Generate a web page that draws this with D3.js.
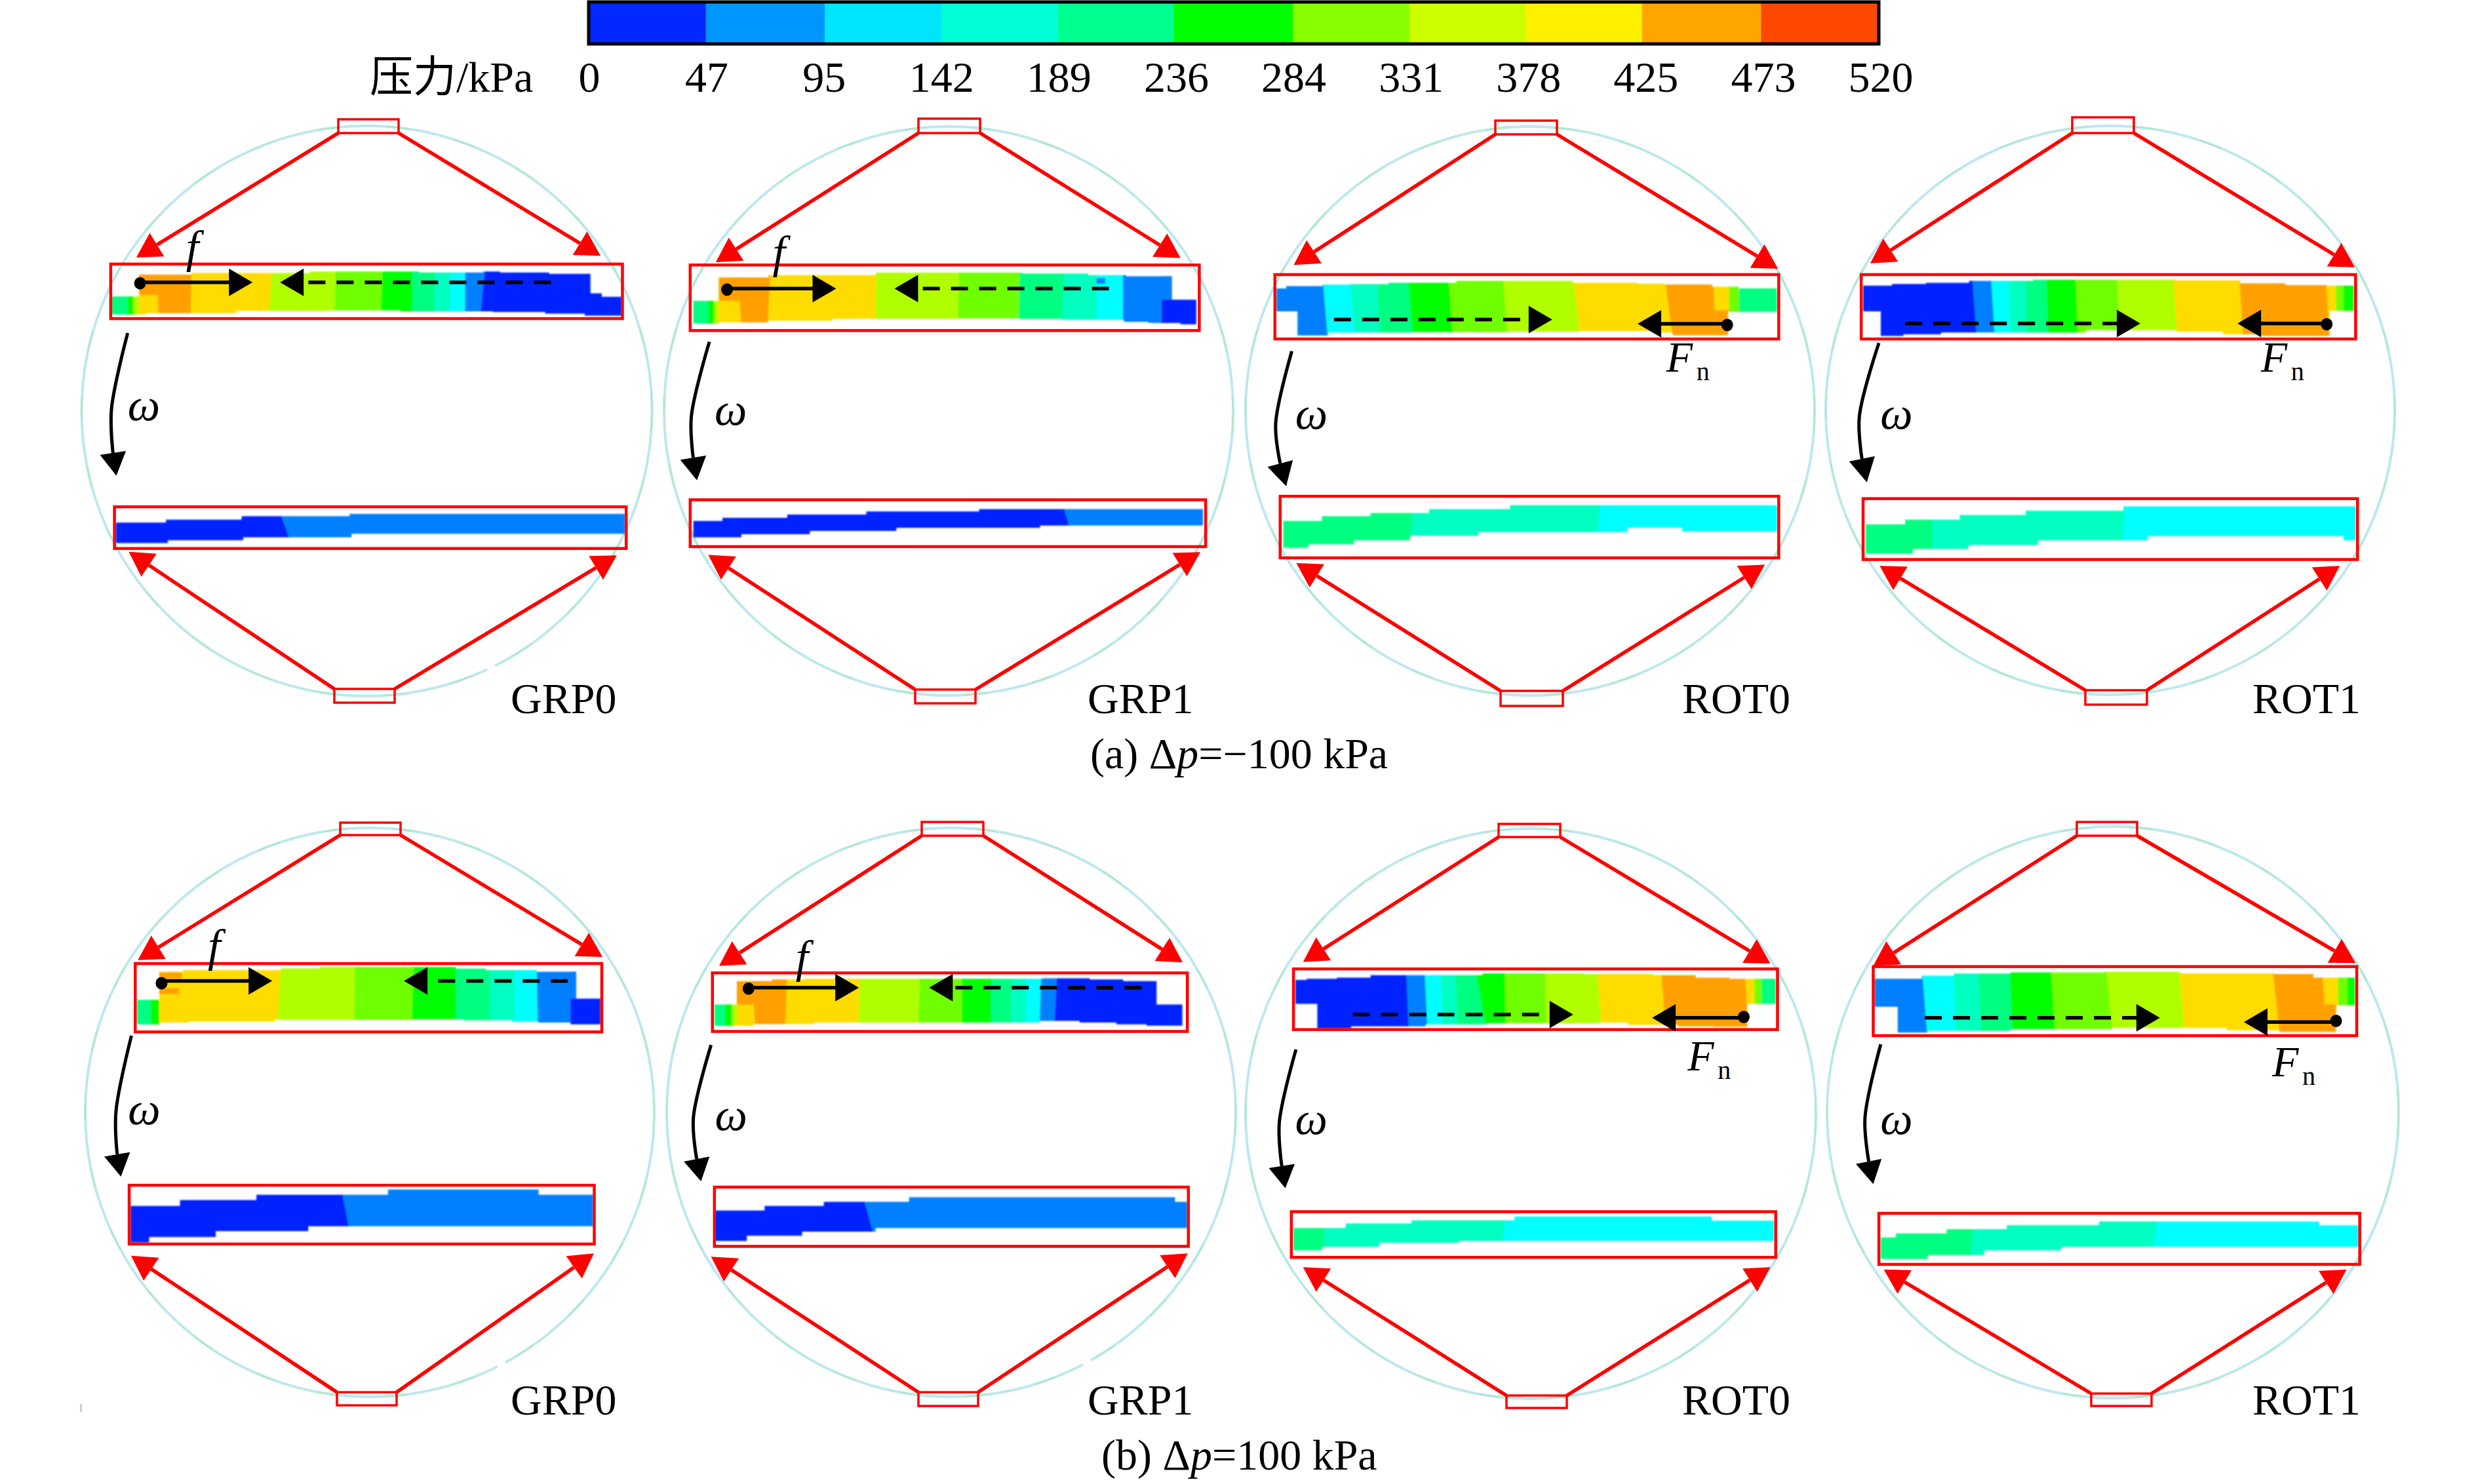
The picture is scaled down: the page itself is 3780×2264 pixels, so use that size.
<!DOCTYPE html>
<html><head><meta charset="utf-8">
<script src="https://d3js.org/d3.v7.min.js"></script>
<style>html,body{margin:0;background:#fff}svg{display:block}text{font-family:"Liberation Serif","Noto Sans CJK SC",serif;fill:#000}</style>
</head><body><div id="c"></div>
<script>
// ---- legend ----
const tickLabels=[0,47,95,142,189,236,284,331,378,425,473,520];
const barColors=["#0028ff","#0096ff","#00e5ff","#00ffd8","#00ff90","#00ff00","#88ff00","#ccff00","#fff000","#ffa500","#ff4800"];
const fieldColors=["#0020ff","#0080ff","#00ffff","#00ffc0","#00ff80","#00ff00","#70ff00","#b0ff00","#ffdc00","#ffa000","#ff4800"];
const caseNames=["GRP0","GRP1","ROT0","ROT1"];
// ---- pressure fields: top / bottom outline steps and pressure bands [edgeTop, edgeBottom, kPa] ----
const aGRP0Up={top:[[122,818],[195,725],[335,718],[650,712],[940,716],[1110,712],[1155,716],[1285,722],[1395,805],[1425,820],[1478]],
 bot:[[122,895],[215,890],[455,880],[700,878],[890,882],[1135,885],[1275,892],[1380,900],[1478]],
 bands:[[122,122,210],[165,165,260],[180,180,350],[195,195,400],[240,248,450],[335,332,400],[548,540,350],[718,715,305],[842,838,260],[922,920,210],[980,980,165],[1022,1022,120],[1062,1062,70],[1115,1102,20]],
 patches:[[195,245,725,812,450]]};
const aGRP0Low={top:[[133,552],[267,540],[468,525],[755,515],[1487]],bot:[[133,640],[272,628],[472,615],[760,600],[1487]],
 bands:[[133,133,20],[570,600,70]],patches:[]};
const aGRP1Up={top:[[100,305],[168,205],[300,195],[585,185],[975,188],[1150,195],[1250,200],[1372,300],[1437]],
 bot:[[100,402],[168,397],[300,390],[470,382],[800,380],[965,382],[1080,386],[1245,395],[1310,400],[1395,405],[1437]],
 bands:[[100,100,210],[140,140,260],[155,155,350],[168,168,400],[218,228,450],[305,298,400],[587,583,350],[807,802,305],[968,965,210],[1085,1080,165],[1172,1172,120],[1242,1242,70],[1345,1345,20]],
 patches:[[168,225,205,305,450],[1345,1372,200,300,70],[1172,1195,208,232,70]]};
const aGRP1Low={top:[[100,1245],[178,1232],[350,1218],[560,1205],[860,1195],[1455]],bot:[[100,1315],[228,1302],[410,1288],[640,1275],[1022,1265],[1455]],
 bands:[[100,100,20],[1085,1108,70]],patches:[]};
const aROT0Up={top:[[82,252],[108,242],[205,236],[275,234],[380,228],[560,220],[870,228],[1040,232],[1115,235],[1240,245],[1310,252],[1412]],
 bot:[[82,350],[138,453],[220,440],[445,438],[695,436],[885,434],[1100,440],[1135,452],[1282,352],[1412]],
 bands:[[82,82,70],[205,218,120],[278,290,165],[350,358,210],[432,445,260],[540,550,305],[685,695,350],[873,888,400],[1115,1135,450],[1243,1250,400],[1285,1285,305],[1312,1312,210]],
 patches:[[1248,1284,345,452,450]]};
const aROT0Low={top:[[100,1245],[203,1225],[332,1212],[488,1195],[703,1178],[1412]],bot:[[100,1360],[167,1345],[288,1328],[437,1308],[618,1293],[1015,1273],[1160,1290],[1412]],
 bands:[[100,100,210],[445,437,165],[942,935,120]],patches:[]};
const aROT1Up={top:[[108,240],[185,233],[275,228],[390,220],[560,215],[940,218],[1110,230],[1230,238],[1340,240],[1412]],
 bot:[[108,350],[155,455],[215,448],[315,440],[700,430],[940,437],[1065,448],[1165,455],[1348,348],[1412]],
 bands:[[108,108,20],[398,410,70],[448,458,120],[495,500,165],[540,545,210],[595,600,260],[672,680,305],[783,790,350],[932,943,400],[1108,1118,450],[1338,1348,400],[1365,1365,305],[1385,1385,260]],
 patches:[]};
const aROT1Low={top:[[115,1260],[220,1240],[365,1220],[540,1202],[800,1183],[1417]],bot:[[115,1385],[240,1365],[388,1348],[573,1328],[865,1310],[1385,1328],[1417]],
 bands:[[115,115,210],[292,290,165],[803,797,120]],patches:[]};
const bGRP0Up={top:[[102,295],[162,175],[225,168],[485,160],[590,155],[850,155],[950,162],[1030,168],[1165,175],[1270,290],[1335]],
 bot:[[102,400],[165,392],[240,388],[470,380],[835,378],[970,382],[1100,388],[1170,392],[1255,400],[1335]],
 bands:[[102,102,210],[140,140,260],[162,162,400],[485,475,350],[682,680,305],[838,833,260],[950,950,210],[1040,1040,165],[1108,1105,120],[1165,1168,70],[1255,1255,20]],
 patches:[[162,222,178,205,450],[162,215,245,270,450],[1255,1270,175,290,70]]};
const bGRP0Low={top:[[85,1175],[217,1150],[420,1128],[770,1105],[1170,1128],[1315]],bot:[[85,1332],[135,1308],[312,1283],[558,1262],[1315]],
 bands:[[85,85,20],[645,675,70]],patches:[]};
const bGRP1Up={top:[[78,315],[145,215],[250,208],[350,205],[1060,203],[1200,208],[1300,215],[1400,315],[1477]],
 bot:[[78,405],[195,398],[375,392],[1050,385],[1170,392],[1280,400],[1370,405],[1477]],
 bands:[[78,78,210],[110,110,260],[130,130,350],[145,145,400],[190,200,450],[295,290,400],[512,508,350],[692,688,305],[818,818,260],[905,905,210],[965,965,165],[1010,1010,120],[1055,1050,70],[1102,1095,20]],
 patches:[[145,195,215,315,450]]};
const bGRP1Low={top:[[80,1195],[228,1175],[405,1158],[660,1138],[1455,1158],[1492]],bot:[[80,1325],[175,1303],[340,1285],[560,1270],[1492]],
 bands:[[80,80,20],[522,560,70]],patches:[]};
const bROT0Up={top:[[103,210],[135,205],[220,200],[315,190],[630,182],[915,185],[1110,190],[1230,200],[1325,205],[1455]],
 bot:[[103,312],[165,418],[260,408],[470,400],[640,395],[955,392],[1040,402],[1180,408],[1280,410],[1375,312],[1455]],
 bands:[[103,103,20],[415,422,70],[467,475,120],[513,518,165],[555,560,210],[612,640,260],[692,695,305],[805,810,350],[953,965,400],[1133,1145,450],[1368,1378,400],[1395,1395,305],[1415,1415,210]],
 patches:[]};
const bROT0Low={top:[[97,1270],[245,1250],[430,1237],[720,1220],[1275,1238],[1450]],bot:[[97,1365],[178,1350],[340,1333],[563,1325],[1450]],
 bands:[[97,97,210],[187,182,165],[695,683,120]],patches:[]};
const bROT1Up={top:[[138,205],[265,192],[350,183],[500,178],[750,175],[950,182],[1200,185],[1305,200],[1415]],
 bot:[[138,325],[200,435],[280,428],[500,420],[770,415],[1075,425],[1215,432],[1365,318],[1415]],
 bands:[[138,138,70],[265,278,120],[347,355,165],[415,422,210],[498,505,260],[607,618,305],[755,770,350],[948,963,400],[1197,1215,450],[1328,1340,400],[1370,1370,305],[1395,1395,260]],
 patches:[[1335,1368,315,432,450]]};
const bROT1Low={top:[[155,1310],[195,1293],[330,1275],[490,1258],[735,1242],[1320,1258],[1425]],bot:[[155,1402],[280,1385],[430,1365],[635,1350],[1425]],
 bands:[[155,155,210],[402,392,165],[888,878,120]],patches:[]};

// ---- panel layout, read in each panel's own crop frame (0..1568 view units) ----
const panels=[
{row:0,k:0,crop:[100,160,900],lowCrop:[100,600,900],circle:[559.5,627,435],topBox:[516,182,608,203],botBox:[510,1051,602,1072],
 upRect:[120,680,1480,913],lowRect:[130,485,1490,663],upTips:[[188,652],[1422,645]],lowTips:[[168,677],[1465,692]],up:aGRP0Up,low:aGRP0Low,
 omega:[[165,975],[122,1300],[126,1487],[135,1584],[208,1347]],solid:[198,762,758,497],dash:[1290,758,570],f:[337,671],gap:[749,1018]},
{row:0,k:1,crop:[1000,350,900],lowCrop:[1000,350,900],circle:[1447,627,434],topBox:[1401,181,1495,203],botBox:[1396,1052,1488,1073],
 upRect:[92,152,1445,432],lowRect:[92,1155,1462,1355],upTips:[[160,140],[1395,122]],lowTips:[[140,1390],[1448,1378]],up:aGRP1Up,low:aGRP1Low,
 omega:[[143,480],[95,800],[100,975],[110,1072],[200,835]],solid:[190,257,253,480],dash:[1205,253,635],f:[328,161],gap:[1735,975]},
{row:0,k:2,crop:[1900,350,900],lowCrop:[1900,350,900],circle:[2334,627,434],topBox:[2281,184,2375,205],botBox:[2289,1054,2384,1077],
 upRect:[78,193,1417,468],lowRect:[92,1140,1417,1403],upTips:[[128,152],[1415,168]],lowTips:[[135,1425],[1380,1432]],up:aROT0Up,low:aROT0Low,
 omega:[[123,520],[80,830],[92,1000],[108,1097],[175,850]],solid:[1280,408,403,1042],dash:[235,385,815],F:[1118,608]},
{row:0,k:3,crop:[2780,350,900],lowCrop:[2780,350,900],circle:[3219,626,434],topBox:[3161,179,3255,203],botBox:[3181,1053,3275,1075],
 upRect:[103,193,1417,468],lowRect:[108,1150,1422,1410],upTips:[[127,145],[1415,162]],lowTips:[[152,1437],[1375,1437]],up:aROT1Up,low:aROT1Low,
 omega:[[150,485],[98,800],[105,980],[118,1080],[197,852]],solid:[1340,405,402,1103],dash:[220,402,845],F:[1165,608]},
{row:1,k:0,crop:[150,1420,900],lowCrop:[150,1420,900],circle:[564,1697,434],topBox:[519,1255,611,1274],botBox:[514,2124,605,2144],
 upRect:[98,140,1338,432],lowRect:[82,1087,1318,1338],upTips:[[105,125],[1340,112]],lowTips:[[87,1388],[1317,1378]],up:bGRP0Up,low:bGRP0Low,
 omega:[[88,448],[47,770],[50,955],[60,1050],[122,825]],solid:[168,224,214,462],dash:[1248,214,812],f:[308,130],gap:[765,2082]},
{row:1,k:1,crop:[1050,1420,800],lowCrop:[1050,1420,800],circle:[1451,1697,434],topBox:[1406,1254,1500,1275],botBox:[1401,2124,1492,2145],
 upRect:[72,180,1492,430],lowRect:[78,1095,1495,1348],upTips:[[92,150],[1478,135]],lowTips:[[68,1392],[1493,1378]],up:bGRP1Up,low:bGRP1Low,
 omega:[[68,488],[15,800],[25,975],[38,1070],[128,850]],solid:[180,247,243,510],dash:[1355,243,720],f:[340,175],gap:[1658,2078]},
{row:1,k:2,crop:[1920,1420,850],lowCrop:[1920,1420,850],circle:[2335,1699,435],topBox:[2286,1257,2380,1277],botBox:[2298,2129,2390,2148],
 upRect:[98,163,1460,422],lowRect:[92,1200,1455,1395],upTips:[[125,133],[1440,140]],lowTips:[[125,1437],[1440,1437]],up:bROT0Up,low:bROT0Low,
 omega:[[105,507],[58,820],[65,1005],[75,1100],[148,868]],solid:[1365,368,372,1107],dash:[265,358,885],F:[1207,595]},
{row:1,k:3,crop:[2780,1420,900],lowCrop:[2780,1420,900],circle:[3223,1697,436],topBox:[3168,1254,3260,1275],botBox:[3190,2126,3282,2145],
 upRect:[135,153,1420,448],lowRect:[150,1207,1428,1425],upTips:[[135,150],[1417,138]],lowTips:[[163,1447],[1393,1447]],up:bROT1Up,low:bROT1Low,
 omega:[[155,485],[113,800],[123,985],[135,1082],[197,868]],solid:[1365,385,390,1120],dash:[272,372,897],F:[1195,622]}
];
const labelX=[779,1659,2566,3436];
const labelY=[1088,2158];
const RED="#ff0000";

const W=3780,H=2264;
const svg=d3.select("#c").append("svg").attr("width",W).attr("height",H).attr("viewBox",[0,0,W,H]);
const defs=svg.append("defs");
defs.append("filter").attr("id","soft").attr("x","-5%").attr("y","-20%").attr("width","110%").attr("height","140%")
  .append("feGaussianBlur").attr("stdDeviation",1.1);

// ---- colour bar ----
const bx=d3.scaleLinear().domain([0,520]).range([899,2864]);
const tickX=d3.scalePoint().domain(tickLabels).range([899,2869]);
const barScale=d3.scaleThreshold().domain(tickLabels.slice(1,-1)).range(barColors);
const fieldScale=d3.scaleThreshold().domain(tickLabels.slice(1,-1)).range(fieldColors);
const g0=svg.append("g");
g0.selectAll("rect.seg").data(d3.pairs(tickLabels)).join("rect").attr("class","seg")
  .attr("x",d=>bx(d[0])).attr("width",d=>bx(d[1])-bx(d[0])+0.5).attr("y",4).attr("height",63)
  .attr("fill",d=>barScale((d[0]+d[1])/2));
g0.append("rect").attr("x",898).attr("y",3).attr("width",1968).attr("height",64).attr("fill","none").attr("stroke","#000").attr("stroke-width",5);
g0.selectAll("text.tick").data(tickLabels).join("text").attr("class","tick")
  .attr("x",d=>tickX(d)).attr("y",140).attr("text-anchor","middle").attr("font-size",66).text(d=>d);
g0.append("text").attr("x",564).attr("y",140).attr("font-size",66).text("压力/kPa");

// ---- helpers ----
const lineGen=d3.line();
function stepPoly(s,x,y){
  const pts=[];
  for(let i=0;i<s.top.length-1;i++){pts.push([x(s.top[i][0]),y(s.top[i][1])],[x(s.top[i+1][0]),y(s.top[i][1])]);}
  for(let i=s.bot.length-2;i>=0;i--){pts.push([x(s.bot[i+1][0]),y(s.bot[i][1])],[x(s.bot[i][0]),y(s.bot[i][1])]);}
  return lineGen(pts)+"Z";
}
let clipId=0;
function drawStrip(g,s,x,y){
  const id="clip"+(clipId++);
  defs.append("clipPath").attr("id",id).append("path").attr("d",stepPoly(s,x,y));
  const endX=s.top[s.top.length-1][0];
  const yMin=d3.min(s.top.slice(0,-1),d=>d[1])-5, yMax=d3.max(s.bot.slice(0,-1),d=>d[1])+5;
  const outer=g.append("g").attr("filter","url(#soft)");
  const gg=outer.append("g").attr("clip-path",`url(#${id})`);
  gg.selectAll("path.band").data(s.bands).join("path").attr("class","band")
    .attr("fill",d=>fieldScale(d[2]))
    .attr("d",(d,i)=>{
      const n=s.bands[i+1]||[endX,endX];
      return lineGen([[x(d[0]),y(yMin)],[x(n[0])+0.6,y(yMin)],[x(n[1])+0.6,y(yMax)],[x(d[1]),y(yMax)]])+"Z";
    });
  gg.selectAll("rect.patch").data(s.patches).join("rect").attr("class","patch")
    .attr("x",d=>x(d[0])).attr("width",d=>x(d[1])-x(d[0])).attr("y",d=>y(d[2])).attr("height",d=>y(d[3])-y(d[2]))
    .attr("fill",d=>fieldScale(d[4]));
}
function redBox(g,b,sw){
  g.append("rect").attr("x",b[0]).attr("y",b[1]).attr("width",b[2]-b[0]).attr("height",b[3]-b[1])
   .attr("fill","none").attr("stroke",RED).attr("stroke-width",sw);
}
function headPts(base,tip,halfW){
  const dx=tip[0]-base[0],dy=tip[1]-base[1],L=Math.hypot(dx,dy);
  const nx=-dy/L*halfW,ny=dx/L*halfW;
  return [[tip[0],tip[1]],[base[0]+nx,base[1]+ny],[base[0]-nx,base[1]-ny]];
}
function redArrow(g,from,tip){
  const dx=tip[0]-from[0],dy=tip[1]-from[1],L=Math.hypot(dx,dy);
  const base=[tip[0]-dx/L*37,tip[1]-dy/L*37];
  g.append("path").attr("d",lineGen([from,base])).attr("stroke",RED).attr("stroke-width",5.5).attr("fill","none");
  g.append("path").attr("d",lineGen(headPts(base,tip,21))+"Z").attr("fill",RED);
}
function cropScales(c){
  return [d3.scaleLinear().domain([0,1568]).range([c[0],c[0]+c[2]]),
          d3.scaleLinear().domain([0,1568]).range([c[1],c[1]+560])];
}
const curved=d3.line().curve(d3.curveCatmullRom.alpha(0.5));

// ---- panels ----
panels.forEach(p=>{
  const g=svg.append("g").attr("class","panel");
  const [x,y]=cropScales(p.crop);
  const [xl,yl]=cropScales(p.lowCrop);
  const [cx,cy,r]=p.circle;
  g.append("circle").attr("cx",cx).attr("cy",cy).attr("r",r).attr("fill","none").attr("stroke","#bde8ee").attr("stroke-width",4);
  g.append("circle").attr("cx",cx).attr("cy",cy).attr("r",r).attr("fill","none").attr("stroke","#b0e8c8").attr("stroke-width",2).attr("stroke-dasharray","34 70");
  if(p.gap) g.append("circle").attr("cx",p.gap[0]).attr("cy",p.gap[1]).attr("r",7).attr("fill","#fff");

  drawStrip(g,p.up,x,y);
  drawStrip(g,p.low,xl,yl);

  const ur=[x(p.upRect[0]),y(p.upRect[1]),x(p.upRect[2]),y(p.upRect[3])];
  const lr=[xl(p.lowRect[0]),yl(p.lowRect[1]),xl(p.lowRect[2]),yl(p.lowRect[3])];
  redBox(g,ur,4.5); redBox(g,lr,4.5);
  redBox(g,p.topBox,3.5); redBox(g,p.botBox,3.5);

  redArrow(g,[p.topBox[0],p.topBox[3]],[x(p.upTips[0][0]),y(p.upTips[0][1])]);
  redArrow(g,[p.topBox[2],p.topBox[3]],[x(p.upTips[1][0]),y(p.upTips[1][1])]);
  redArrow(g,[p.botBox[0],p.botBox[1]],[xl(p.lowTips[0][0]),yl(p.lowTips[0][1])]);
  redArrow(g,[p.botBox[2],p.botBox[1]],[xl(p.lowTips[1][0]),yl(p.lowTips[1][1])]);

  // rotation arrow
  const om=p.omega, P=d=>[x(d[0]),y(d[1])];
  g.append("path").attr("d",curved([P(om[0]),P(om[1]),P(om[2])])).attr("fill","none").attr("stroke","#000").attr("stroke-width",5);
  g.append("path").attr("d",lineGen(headPts(P(om[2]),P(om[3]),20))+"Z").attr("fill","#000");
  g.append("text").attr("x",x(om[4][0])).attr("y",y(om[4][1])).attr("text-anchor","middle").attr("font-size",70).attr("font-style","italic").text("ω");

  // solid force arrow with dot
  const [dx,dy,sy,stip]=p.solid, dir=Math.sign(stip-dx);
  g.append("ellipse").attr("cx",x(dx)).attr("cy",y(dy)).attr("rx",9).attr("ry",9.5).attr("fill","#000");
  g.append("line").attr("x1",x(dx)).attr("x2",x(stip)-dir*30).attr("y1",y(sy)).attr("y2",y(sy)).attr("stroke","#000").attr("stroke-width",5.5);
  g.append("path").attr("d",lineGen(headPts([x(stip)-dir*36,y(sy)],[x(stip),y(sy)],21))+"Z").attr("fill","#000");
  // dashed force arrow
  const [ds,dyy,dtip]=p.dash, dd=Math.sign(dtip-ds);
  g.append("line").attr("x1",x(ds)).attr("x2",x(dtip)-dd*30).attr("y1",y(dyy)).attr("y2",y(dyy)).attr("stroke","#000").attr("stroke-width",5.5).attr("stroke-dasharray","26 17");
  g.append("path").attr("d",lineGen(headPts([x(dtip)-dd*36,y(dyy)],[x(dtip),y(dyy)],21))+"Z").attr("fill","#000");

  if(p.f) g.append("text").attr("x",x(p.f[0])).attr("y",y(p.f[1])).attr("text-anchor","middle").attr("font-size",70).attr("font-style","italic").text("f");
  if(p.F){
    g.append("text").attr("x",x(p.F[0])).attr("y",y(p.F[1])).attr("font-size",66).attr("font-style","italic").text("F");
    g.append("text").attr("x",x(p.F[0])+46).attr("y",y(p.F[1])+13).attr("font-size",40).text("n");
  }
  g.append("text").attr("x",labelX[p.k]).attr("y",labelY[p.row]).attr("font-size",66).text(caseNames[p.k]);
});

// ---- captions ----
function caption(xp,yp,pre,post){
  const t=svg.append("text").attr("x",xp).attr("y",yp).attr("font-size",66);
  t.append("tspan").text(pre);
  t.append("tspan").attr("font-style","italic").text("p");
  t.append("tspan").text(post);
}
caption(1663,1172,"(a) Δ","=−100 kPa");
caption(1680,2242,"(b) Δ","=100 kPa");
svg.append("rect").attr("x",122).attr("y",2142).attr("width",3).attr("height",12).attr("fill","#ccc");
</script></body></html>
